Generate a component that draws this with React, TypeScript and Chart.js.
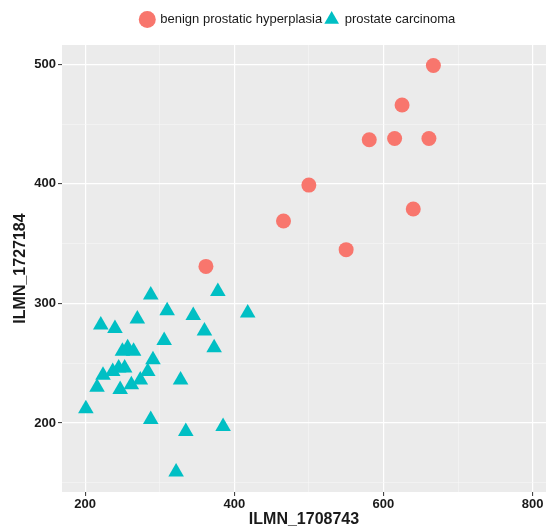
import React, { useEffect, useRef } from "react";
import { Chart, registerables } from "chart.js";

Chart.register(...registerables);

// benign prostatic hyperplasia (circles)
const bphX = [667, 625, 581, 615, 661, 500, 640, 466, 550, 362];
const bphY = [499, 466, 437, 438, 438, 399, 379, 369, 345, 331];

// prostate carcinoma (triangles)
const pcX = [201, 216, 224, 237, 245, 253, 247, 262, 274, 284, 291, 250, 257, 265, 221, 240, 270, 288, 310, 306, 345, 360, 373, 378, 418, 328, 288, 335, 385, 322];
const pcY = [212, 230, 240, 243, 246, 246, 228, 232, 236, 243, 253, 260, 263, 260, 282, 279, 287, 307, 294, 269, 290, 277, 263, 310, 292, 236, 203, 193, 197, 159];

const seriesNames = ["benign prostatic hyperplasia", "prostate carcinoma"];
const xTickLabels = [200, 400, 600, 800];
const yTickLabels = [200, 300, 400, 500];
const xTitle = "ILMN_1708743";
const yTitle = "ILMN_1727184";

const FONT = "'Liberation Sans', Arial, Helvetica, sans-serif";

export default function App() {
  const ref = useRef<HTMLCanvasElement | null>(null);

  useEffect(() => {
    if (!ref.current) return;
    const panelBg = {
      id: "panelBg",
      beforeDraw(chart: any) {
        const { ctx, chartArea: a } = chart;
        ctx.save();
        ctx.fillStyle = "#EBEBEB";
        ctx.fillRect(a.left, a.top, a.right - a.left, a.bottom - a.top);
        ctx.restore();
      },
    };
    const legendShift = {
      id: "legendShift",
      afterLayout(chart: any) {
        const lg = chart.legend;
        if (!lg) return;
        const c = (lg.left + lg.right) / 2;
        const d = 298 - c;
        lg.left += d;
        lg.right += d;
        lg.top -= 9;
        lg.bottom -= 9;
      },
    };

    const isMajorX = (v: number) => xTickLabels.includes(v);
    const isMajorY = (v: number) => yTickLabels.includes(v);

    const chart = new Chart(ref.current, {
      type: "scatter",
      data: {
        datasets: [
          {
            label: seriesNames[0],
            data: bphX.map((x, i) => ({ x, y: bphY[i] })),
            backgroundColor: "#F8766D",
            borderColor: "#F8766D",
            borderWidth: 0,
            pointStyle: "circle",
            pointRadius: 7.5,
            pointHoverRadius: 7.5,
          },
          {
            label: seriesNames[1],
            data: pcX.map((x, i) => ({ x, y: pcY[i] })),
            backgroundColor: "#00BFC4",
            borderColor: "#00BFC4",
            borderWidth: 0,
            pointStyle: "triangle",
            pointRadius: 9,
            pointHoverRadius: 9,
          },
        ],
      },
      options: {
        responsive: false,
        animation: false,
        layout: { autoPadding: false, padding: { left: 0, right: 1, top: 19, bottom: 0 } },
        plugins: {
          tooltip: { enabled: false },
          legend: {
            display: true,
            position: "top",
            align: "center",
            labels: {
              usePointStyle: true,
              boxHeight: 12,
              boxWidth: 13,
              padding: 3,
              color: "#1a1a1a",
              font: { family: FONT, size: 13 },
            },
          },
        },
        scales: {
          x: {
            type: "linear",
            min: 169,
            max: 818,
            afterFit(s: any) {
              s.height = 37;
              s.paddingRight = 0;
              s.paddingLeft = 0;
            },
            border: { display: false },
            grid: {
              color: (c: any) => (c.tick && isMajorX(c.tick.value) ? "#FFFFFF" : "#F6F6F6"),
              lineWidth: (c: any) => (c.tick && isMajorX(c.tick.value) ? 1.2 : 0.6),
              tickColor: (c: any) => (c.tick && isMajorX(c.tick.value) ? "#333333" : "rgba(0,0,0,0)"),
              tickLength: 4,
              tickWidth: 1,
            },
            ticks: {
              stepSize: 100,
              includeBounds: false,
              autoSkip: false,
              maxRotation: 0,
              padding: 1,
              color: "#1a1a1a",
              font: { family: FONT, size: 13, weight: "bold" },
              callback: (v: any) => (isMajorX(Number(v)) ? String(v) : ""),
            },
            title: {
              display: true,
              text: xTitle,
              color: "#1a1a1a",
              font: { family: FONT, size: 16, weight: "bold" },
              padding: { top: 0, bottom: 0 },
            },
          },
          y: {
            type: "linear",
            min: 142.3,
            max: 516.2,
            afterFit(s: any) {
              s.width = 62;
            },
            border: { display: false },
            grid: {
              color: (c: any) => (c.tick && isMajorY(c.tick.value) ? "#FFFFFF" : "#F6F6F6"),
              lineWidth: (c: any) => (c.tick && isMajorY(c.tick.value) ? 1.2 : 0.6),
              tickColor: (c: any) => (c.tick && isMajorY(c.tick.value) ? "#333333" : "rgba(0,0,0,0)"),
              tickLength: 4,
              tickWidth: 1,
            },
            ticks: {
              stepSize: 50,
              includeBounds: false,
              autoSkip: false,
              padding: 2,
              color: "#1a1a1a",
              font: { family: FONT, size: 13, weight: "bold" },
              callback: (v: any) => (isMajorY(Number(v)) ? String(v) : ""),
            },
            title: {
              display: true,
              text: yTitle,
              color: "#1a1a1a",
              font: { family: FONT, size: 16, weight: "bold" },
              padding: { top: 11, bottom: 0 },
            },
          },
        },
      },
      plugins: [panelBg, legendShift],
    } as any);

    return () => chart.destroy();
  }, []);

  return (
    <div style={{ position: "absolute", left: 0, top: 0, width: 547, height: 529, background: "#FFFFFF" }}>
      <canvas ref={ref} width={547} height={529} style={{ display: "block", width: 547, height: 529 }} />
    </div>
  );
}
